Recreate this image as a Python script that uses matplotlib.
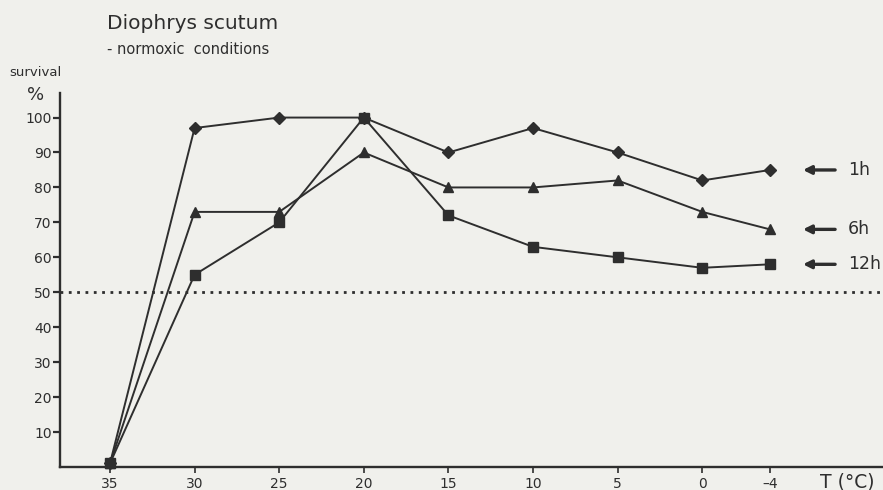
import matplotlib
matplotlib.use("Agg")
import matplotlib.pyplot as plt

# survival (%) of Diophrys scutum after exposure at each temperature
temps = [35, 30, 25, 20, 15, 10, 5, 0, -4]
surv_1h = [1, 97, 100, 100, 90, 97, 90, 82, 85]
surv_6h = [1, 73, 73, 90, 80, 80, 82, 73, 68]
surv_12h = [1, 55, 70, 100, 72, 63, 60, 57, 58]
series_labels = ["1h", "6h", "12h"]

BG = "#f0f0ec"
INK = "#2e2e2e"

fig = plt.figure(figsize=(8.83, 4.9), dpi=100, facecolor=BG)
ax = fig.add_axes([0.068, 0.047, 0.932, 0.763], facecolor=BG)

ax.set_xlim(37.95, -10.68)
ax.set_ylim(0, 107)

for sp in ("top", "right"):
    ax.spines[sp].set_visible(False)
for sp in ("left", "bottom"):
    ax.spines[sp].set_color(INK)
    ax.spines[sp].set_linewidth(1.7)

ax.set_xticks(temps)
ax.set_xticklabels([str(t) if t >= 0 else "\u2013" + str(-t) for t in temps])
ax.set_yticks(range(10, 101, 10))
ax.tick_params(axis="x", direction="out", length=4, width=1.2, colors=INK,
               labelsize=10, pad=3)
ax.tick_params(axis="y", direction="out", length=5, width=1.6, colors=INK,
               labelsize=10, pad=1)

# 50 % reference line
ax.axhline(50, color=INK, lw=2.0, ls=(0, (1, 2)), clip_on=False)

styles = [("D", 6.5), ("^", 7), ("s", 7)]
for vals, (mk, ms) in zip([surv_1h, surv_6h, surv_12h], styles):
    ax.plot(temps, vals, color=INK, lw=1.4, marker=mk, ms=ms,
            mfc=INK, mec=INK, clip_on=False, zorder=3)

# arrows and labels pointing at the last point of each curve
for vals, lab in zip([surv_1h, surv_6h, surv_12h], series_labels):
    y = vals[-1]
    ax.annotate("", xy=(-5.95, y), xytext=(-7.85, y),
                arrowprops=dict(arrowstyle="-|>", color=INK, lw=2.4,
                                mutation_scale=12, shrinkA=0, shrinkB=0),
                annotation_clip=False)
    ax.text(-8.6, y, lab, fontsize=12.5, color=INK, va="center", ha="left")

fig.text(0.121, 0.953, "Diophrys scutum", fontsize=14.5, color=INK,
         ha="left", va="center")
fig.text(0.121, 0.898, "- normoxic  conditions", fontsize=10.5, color=INK,
         ha="left", va="center")
fig.text(0.040, 0.852, "survival", fontsize=9.5, color=INK, ha="center", va="center")
fig.text(0.040, 0.806, "%", fontsize=13, color=INK, ha="center", va="center")
fig.text(0.960, 0.016, "T (\u00b0C)", fontsize=13.5, color=INK, ha="center",
         va="center")

fig.savefig("out.png", dpi=100, facecolor=BG)
